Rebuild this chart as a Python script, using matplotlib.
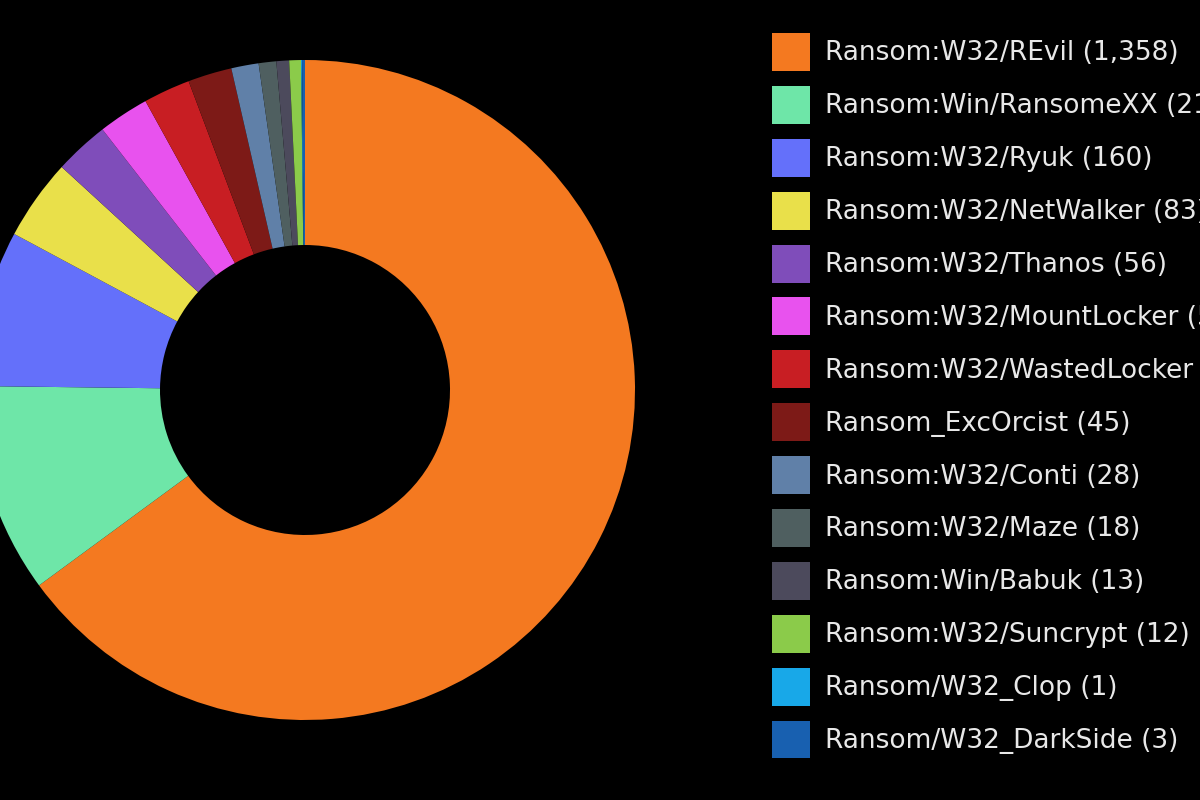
import matplotlib
matplotlib.use("Agg")
import matplotlib.pyplot as plt
from matplotlib.patches import Patch

names = ["Ransom:W32/REvil", "Ransom:Win/RansomeXX", "Ransom:W32/Ryuk",
         "Ransom:W32/NetWalker", "Ransom:W32/Thanos", "Ransom:W32/MountLocker",
         "Ransom:W32/WastedLocker", "Ransom_ExcOrcist", "Ransom:W32/Conti",
         "Ransom:W32/Maze", "Ransom:Win/Babuk", "Ransom:W32/Suncrypt",
         "Ransom/W32_Clop", "Ransom/W32_DarkSide"]
counts = [1358, 215, 160, 83, 56, 52, 48, 45, 28, 18, 13, 12, 1, 3]
colors = ["#F47920", "#6EE6A8", "#6470FA", "#E9E04A", "#7F4DBA", "#E852EE",
          "#C81E23", "#7D1A17", "#6080A8", "#4F5F60", "#4C4A5C", "#8BCB4A",
          "#18A8E8", "#1860B0"]

plt.rcParams['font.family'] = ['DejaVu Sans']

fig = plt.figure(figsize=(12, 8), dpi=100, facecolor="black")
ax = fig.add_axes([0, 0, 1, 1])
ax.set_facecolor("black")

ax.pie(counts, colors=colors, startangle=90, counterclock=False,
       center=(305, 410), radius=330,
       wedgeprops=dict(width=185, linewidth=0, antialiased=True))
ax.set_xlim(0, 1200)
ax.set_ylim(0, 800)
ax.set_aspect("equal")
ax.axis("off")

labels = [f"{n} ({c:,})" for n, c in zip(names, counts)]
handles = [Patch(facecolor=col, edgecolor="none") for col in colors]
fs = 19
leg = fig.legend(handles, labels, loc="upper left",
                 bbox_to_anchor=(772 / 1200, 1 - 33 / 800),
                 frameon=False, fontsize=fs, borderpad=0, borderaxespad=0,
                 handlelength=1.44, handleheight=1.837, handletextpad=0.57,
                 labelspacing=0.565)
for t in leg.get_texts():
    t.set_color("#E8E8E8")

fig.savefig("out.png", dpi=100, facecolor="black")
